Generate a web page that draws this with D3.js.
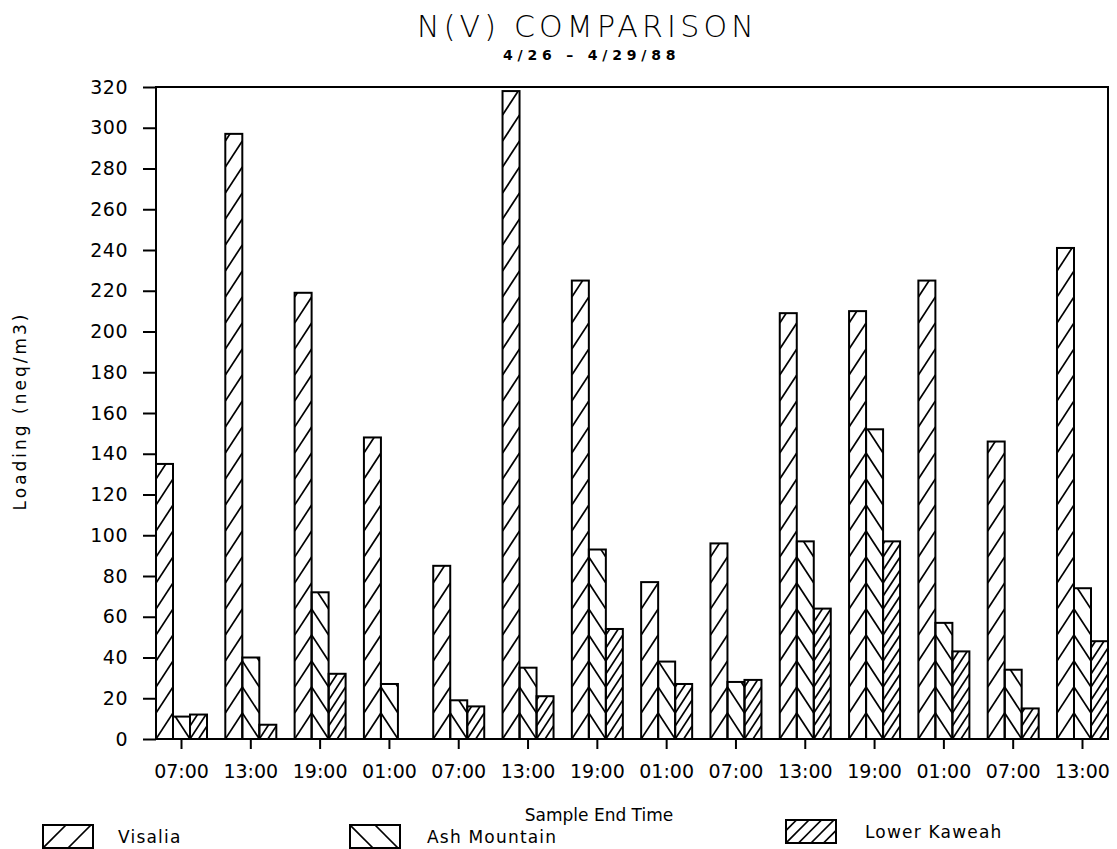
<!DOCTYPE html>
<html>
<head>
<meta charset="utf-8">
<script src="https://cdn.jsdelivr.net/npm/d3@7"></script>
<style>
  html, body { margin: 0; padding: 0; background: #fff; }
  svg { display: block; }
  text { font-family: "DejaVu Sans", sans-serif; fill: #000; }
</style>
</head>
<body>
<svg id="chart" width="1117" height="849"></svg>
<script>
// ---- data ----
const times = ["07:00","13:00","19:00","01:00","07:00","13:00","19:00","01:00","07:00","13:00","19:00","01:00","07:00","13:00"];
const seriesNames = ["Visalia", "Ash Mountain", "Lower Kaweah"];
const visalia     = [135, 297, 219, 148, 85, 318, 225, 77, 96, 209, 210, 225, 146, 241];
const ashMountain = [11, 40, 72, 27, 19, 35, 93, 38, 28, 97, 152, 57, 34, 74];
const lowerKaweah = [12, 7, 32, 0, 16, 21, 54, 27, 29, 64, 97, 43, 15, 48];
const yTickValues = [0, 20, 40, 60, 80, 100, 120, 140, 160, 180, 200, 220, 240, 260, 280, 300, 320];
const titleText = "N(V) COMPARISON";
const subtitleText = "4/26 \u2013 4/29/88";
const yTitle = "Loading (neq/m3)";
const xTitle = "Sample End Time";

const seriesValues = [visalia, ashMountain, lowerKaweah];
// hatch style per series: dir +1 = "/", -1 = "\" ; period in px
const hatch = [ {dir: 1, period: 26}, {dir: -1, period: 26}, {dir: 1, period: 13} ];

const svg = d3.select("#chart");
const plotLeft = 156, plotRight = 1108, plotTop = 87, plotBottom = 739;

const x0 = d3.scaleBand().domain(d3.range(times.length)).range([plotLeft, plotRight])
  .paddingInner(0.264).paddingOuter(0);
const x1 = d3.scaleBand().domain(d3.range(seriesNames.length)).range([0, x0.bandwidth()]).padding(0);
const y = d3.scaleLinear().domain([0, 320]).range([plotBottom, plotTop]);

const defs = svg.append("defs");

// ---- bars ----
const barData = [];
times.forEach((t, i) => {
  seriesValues.forEach((vals, s) => {
    barData.push({i, s, v: vals[i]});
  });
});

const bw = x1.bandwidth();
const rise = 26;
const gBars = svg.append("g");
barData.forEach((d, idx) => {
  if (d.v <= 0) return;
  const bx = x0(d.i) + x1(d.s);
  const by = y(d.v);
  const bh = y(0) - by;
  const id = "clip" + idx;
  defs.append("clipPath").attr("id", id)
    .append("rect").attr("x", bx).attr("y", by).attr("width", bw).attr("height", bh);
  const g = gBars.append("g");
  const h = hatch[d.s];
  const lines = [];
  const n = Math.ceil(bh / h.period) + 3;
  for (let k = -2; k < n; k++) {
    const base = y(0) - k * h.period;
    if (h.dir > 0) lines.push([bx, base, bx + bw, base - rise]);
    else lines.push([bx, base - rise, bx + bw, base]);
  }
  g.append("g").attr("clip-path", `url(#${id})`)
    .selectAll("line").data(lines).join("line")
    .attr("x1", l => l[0]).attr("y1", l => l[1])
    .attr("x2", l => l[2]).attr("y2", l => l[3])
    .attr("stroke", "#000").attr("stroke-width", 1.7);
  g.append("rect").attr("x", bx).attr("y", by).attr("width", bw).attr("height", bh)
    .attr("fill", "none").attr("stroke", "#000").attr("stroke-width", 2);
});

// ---- frame ----
svg.append("rect").attr("x", plotLeft).attr("y", plotTop)
  .attr("width", plotRight - plotLeft).attr("height", plotBottom - plotTop)
  .attr("fill", "none").attr("stroke", "#000").attr("stroke-width", 2);

// ---- axes ----
const yAxis = svg.append("g").attr("transform", `translate(${plotLeft},0)`)
  .call(d3.axisLeft(y).tickValues(yTickValues).tickSize(13).tickPadding(15).tickFormat(d3.format("d")));
yAxis.select(".domain").remove();
yAxis.selectAll(".tick line").attr("stroke-width", 2);
yAxis.selectAll("text").style("font-size", "19px").style("letter-spacing", "0.5px").attr("fill", "#000");

const xAxis = svg.append("g").attr("transform", `translate(0,${plotBottom})`)
  .call(d3.axisBottom(x0).tickSize(10).tickPadding(16).tickFormat(i => times[i]));
xAxis.select(".domain").remove();
xAxis.selectAll(".tick line").attr("stroke-width", 2);
xAxis.selectAll("text").style("font-size", "19px").attr("fill", "#000");

// ---- titles ----
svg.append("text").attr("x", 417).attr("y", 37).attr("text-anchor", "start")
  .style("font-size", "30px").style("font-weight", 200).style("letter-spacing", "4.2px").text(titleText);
svg.append("text").attr("x", 503).attr("y", 60).attr("text-anchor", "start")
  .style("font-size", "14px").style("font-weight", "bold").style("letter-spacing", "4.8px").text(subtitleText);
svg.append("text").attr("transform", "translate(26,411) rotate(-90)").attr("text-anchor", "middle")
  .style("font-size", "17px").style("letter-spacing", "3px").text(yTitle);
svg.append("text").attr("x", 599).attr("y", 821).attr("text-anchor", "middle")
  .style("font-size", "17px").text(xTitle);

// ---- legend ----
const legendPos = [ {bx: 43, by: 825, tx: 118, ty: 843}, {bx: 350, by: 825, tx: 427, ty: 843}, {bx: 786, by: 820, tx: 865, ty: 838} ];
const lw = 50, lh = 23;
const legendSpacing = [25, 25, 12.5];
const gLeg = svg.append("g");
seriesNames.forEach((name, s) => {
  const p = legendPos[s];
  const id = "lclip" + s;
  defs.append("clipPath").attr("id", id)
    .append("rect").attr("x", p.bx).attr("y", p.by).attr("width", lw).attr("height", lh);
  const lines = [];
  const sp = legendSpacing[s];
  for (let k = -2; k < lw / sp + 2; k++) {
    const xs = p.bx + k * sp;
    if (hatch[s].dir > 0) lines.push([xs, p.by + lh, xs + lh, p.by]);
    else lines.push([xs, p.by, xs + lh, p.by + lh]);
  }
  gLeg.append("g").attr("clip-path", `url(#${id})`)
    .selectAll("line").data(lines).join("line")
    .attr("x1", l => l[0]).attr("y1", l => l[1]).attr("x2", l => l[2]).attr("y2", l => l[3])
    .attr("stroke", "#000").attr("stroke-width", 1.7);
  gLeg.append("rect").attr("x", p.bx).attr("y", p.by).attr("width", lw).attr("height", lh)
    .attr("fill", "none").attr("stroke", "#000").attr("stroke-width", 2);
  gLeg.append("text").attr("x", p.tx).attr("y", p.ty).style("font-size", "17px")
    .style("letter-spacing", "1.2px").text(name);
});
</script>
</body>
</html>
